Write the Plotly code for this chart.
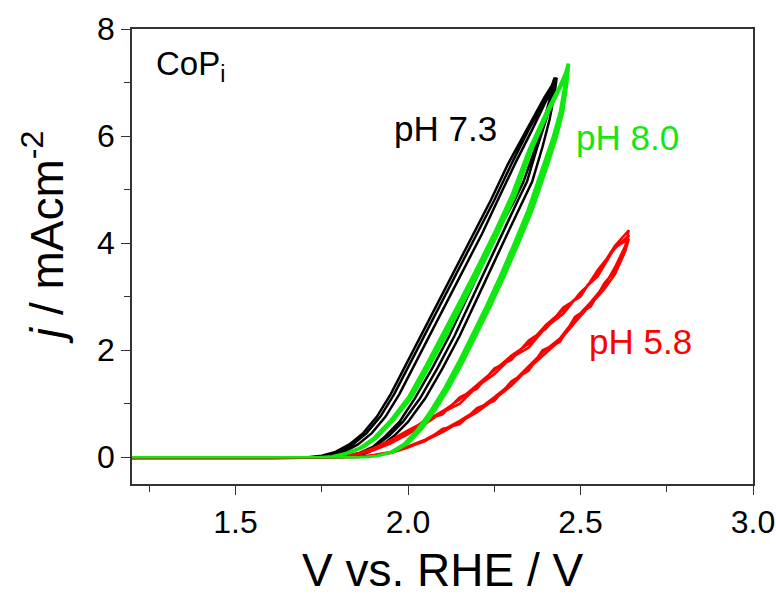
import plotly.graph_objects as go

# ---------------- data ----------------
# pH 7.3 (black): forward (anodic) branches share j values, three cycles
ph73_fwd_j = [0, 0, 0, 0.03, 0.10, 0.24, 0.45, 0.76, 1.18, 1.68, 2.30, 2.93, 3.56, 4.18, 4.80, 5.48, 6.12, 6.72, 7.09]
ph73_fwd_v_c1 = [1.20, 1.60, 1.71, 1.75, 1.79, 1.83, 1.87, 1.91, 1.95, 1.99, 2.04, 2.09, 2.14, 2.19, 2.24, 2.29, 2.345, 2.395, 2.431]
ph73_fwd_v_c2 = [1.20, 1.60, 1.72, 1.76, 1.80, 1.84, 1.88, 1.92, 1.96, 2.00, 2.05, 2.10, 2.15, 2.20, 2.25, 2.30, 2.35, 2.40, 2.428]
ph73_fwd_v_c3 = [1.20, 1.60, 1.73, 1.775, 1.815, 1.855, 1.895, 1.935, 1.975, 2.015, 2.065, 2.115, 2.165, 2.215, 2.26, 2.31, 2.36, 2.405, 2.425]
ph73_rev_j = [7.09, 6.80, 6.30, 5.80, 5.15, 4.75, 4.34, 3.65, 2.95, 2.27, 1.66, 1.10, 0.66, 0.40, 0.20, 0.08, 0.02, 0.0, -0.02, -0.02]
ph73_rev_v_c1 = [2.431, 2.425, 2.41, 2.39, 2.36, 2.33, 2.30, 2.25, 2.20, 2.15, 2.10, 2.05, 2.00, 1.96, 1.92, 1.88, 1.84, 1.80, 1.60, 1.20]
ph73_rev_v_c2 = [2.428, 2.42, 2.40, 2.375, 2.345, 2.315, 2.285, 2.235, 2.185, 2.135, 2.085, 2.035, 1.985, 1.945, 1.905, 1.87, 1.83, 1.79, 1.60, 1.20]
ph73_rev_v_c3 = [2.425, 2.415, 2.395, 2.37, 2.335, 2.305, 2.27, 2.22, 2.17, 2.12, 2.07, 2.02, 1.975, 1.935, 1.90, 1.86, 1.82, 1.78, 1.60, 1.20]

# pH 8.0 (green)
ph80_fwd_j = [0, 0, 0, 0.02, 0.08, 0.18, 0.36, 0.70, 1.12, 1.70, 2.30, 2.92, 3.55, 4.20, 4.90, 5.75, 6.45, 6.95, 7.35]
ph80_fwd_v_c1 = [1.20, 1.60, 1.74, 1.78, 1.82, 1.86, 1.90, 1.95, 2.00, 2.05, 2.10, 2.15, 2.20, 2.25, 2.30, 2.35, 2.40, 2.44, 2.467]
ph80_fwd_v_c2 = [1.20, 1.60, 1.745, 1.785, 1.825, 1.865, 1.905, 1.955, 2.006, 2.056, 2.107, 2.157, 2.207, 2.257, 2.306, 2.355, 2.404, 2.443, 2.465]
ph80_fwd_v_c3 = [1.20, 1.60, 1.75, 1.79, 1.83, 1.87, 1.91, 1.96, 2.012, 2.063, 2.114, 2.164, 2.214, 2.263, 2.312, 2.36, 2.408, 2.446, 2.463]
ph80_rev_j = [7.35, 7.00, 6.45, 5.95, 5.35, 4.60, 3.98, 3.38, 2.82, 2.30, 1.78, 1.30, 0.88, 0.52, 0.25, 0.10, 0.03, 0.0, 0.0, 0.0]
ph80_rev_v_c1 = [2.467, 2.462, 2.45, 2.43, 2.40, 2.36, 2.32, 2.28, 2.24, 2.20, 2.16, 2.12, 2.08, 2.04, 2.00, 1.96, 1.92, 1.88, 1.60, 1.20]
ph80_rev_v_c2 = [2.465, 2.458, 2.445, 2.424, 2.393, 2.353, 2.313, 2.273, 2.233, 2.193, 2.153, 2.113, 2.073, 2.033, 1.994, 1.955, 1.915, 1.875, 1.60, 1.20]
ph80_rev_v_c3 = [2.463, 2.455, 2.44, 2.418, 2.386, 2.346, 2.306, 2.266, 2.226, 2.186, 2.146, 2.106, 2.066, 2.027, 1.988, 1.95, 1.91, 1.87, 1.60, 1.20]

# pH 5.8 (red): forward / reverse potentials shared, three cycles of currents
ph58_fwd_v = [1.20, 1.60, 1.78, 1.82, 1.86, 1.90, 1.95, 2.00, 2.05, 2.10, 2.15, 2.20, 2.25, 2.30, 2.35, 2.40, 2.45, 2.50, 2.55, 2.60, 2.64]
ph58_fwd_j_c1 = [0, 0, 0.0, 0.03, 0.08, 0.17, 0.32, 0.50, 0.67, 0.86, 1.08, 1.35, 1.62, 1.90, 2.12, 2.47, 2.75, 3.05, 3.45, 3.95, 4.24]
ph58_fwd_j_c2 = [0, 0, 0.0, 0.03, 0.07, 0.15, 0.29, 0.46, 0.70, 0.80, 1.12, 1.28, 1.66, 1.82, 2.18, 2.40, 2.80, 3.00, 3.50, 3.90, 4.15]
ph58_fwd_j_c3 = [0, 0, 0.0, 0.02, 0.06, 0.13, 0.26, 0.43, 0.62, 0.84, 1.00, 1.32, 1.55, 1.86, 2.05, 2.43, 2.68, 3.08, 3.38, 3.92, 4.08]
ph58_rev_v = [2.64, 2.63, 2.60, 2.57, 2.53, 2.484, 2.44, 2.39, 2.35, 2.30, 2.25, 2.20, 2.15, 2.10, 2.05, 2.00, 1.95, 1.90, 1.85, 1.60, 1.20]
ph58_rev_j_c1 = [4.24, 3.95, 3.55, 3.21, 2.90, 2.58, 2.22, 1.96, 1.70, 1.38, 1.12, 0.88, 0.68, 0.50, 0.33, 0.20, 0.10, 0.04, 0.0, 0.0, 0.0]
ph58_rev_j_c2 = [4.15, 3.90, 3.48, 3.26, 2.82, 2.62, 2.15, 2.00, 1.62, 1.42, 1.05, 0.92, 0.62, 0.53, 0.30, 0.19, 0.09, 0.03, 0.0, 0.0, 0.0]
ph58_rev_j_c3 = [4.08, 3.85, 3.42, 3.15, 2.86, 2.52, 2.18, 1.90, 1.66, 1.34, 1.08, 0.84, 0.65, 0.47, 0.31, 0.18, 0.08, 0.03, 0.0, -0.01, -0.01]

x_ticks = [1.5, 2.0, 2.5, 3.0]
x_ticklabels = ["1.5", "2.0", "2.5", "3.0"]
y_ticks = [0, 2, 4, 6, 8]
y_ticklabels = ["0", "2", "4", "6", "8"]

labels = {"pH 7.3": (2.110, 6.14), "pH 8.0": (2.635, 5.97), "pH 5.8": (2.675, 2.17)}

BLACK = "#000000"
GREEN = "#11e811"
RED = "#ff0000"

# ---------------- build traces ----------------
def join(parts):
    xs, ys = [], []
    for x, y in parts:
        xs += list(x)
        ys += list(y)
    return xs, ys

ph73_x, ph73_y = join([
    (ph73_fwd_v_c1, ph73_fwd_j), (ph73_rev_v_c1, ph73_rev_j),
    (ph73_fwd_v_c2, ph73_fwd_j), (ph73_rev_v_c2, ph73_rev_j),
    (ph73_fwd_v_c3, ph73_fwd_j), (ph73_rev_v_c3, ph73_rev_j),
])
ph80_x, ph80_y = join([
    (ph80_fwd_v_c1, ph80_fwd_j), (ph80_rev_v_c1, ph80_rev_j),
    (ph80_fwd_v_c2, ph80_fwd_j), (ph80_rev_v_c2, ph80_rev_j),
    (ph80_fwd_v_c3, ph80_fwd_j), (ph80_rev_v_c3, ph80_rev_j),
])
ph58_x, ph58_y = join([
    (ph58_fwd_v, ph58_fwd_j_c1), (ph58_rev_v, ph58_rev_j_c1),
    (ph58_fwd_v, ph58_fwd_j_c2), (ph58_rev_v, ph58_rev_j_c2),
    (ph58_fwd_v, ph58_fwd_j_c3), (ph58_rev_v, ph58_rev_j_c3),
])

fig = go.Figure()
fig.add_trace(go.Scatter(x=ph73_x, y=ph73_y, mode="lines", name="pH 7.3",
                         line=dict(color=BLACK, width=2.5)))
fig.add_trace(go.Scatter(x=ph58_x, y=ph58_y, mode="lines", name="pH 5.8",
                         line=dict(color=RED, width=2.5)))
fig.add_trace(go.Scatter(x=ph80_x, y=ph80_y, mode="lines", name="pH 8.0",
                         line=dict(color=GREEN, width=2.5)))

FONT = "Liberation Sans, Arial, sans-serif"

ann = [
    dict(x=1.265, y=7.31, xref="x", yref="y", text="CoP<sub>i</sub>", showarrow=False,
         xanchor="left", yanchor="middle", font=dict(size=33, color="#000000", family=FONT)),
    dict(x=labels["pH 7.3"][0], y=labels["pH 7.3"][1], xref="x", yref="y", text="pH 7.3",
         showarrow=False, xanchor="center", yanchor="middle",
         font=dict(size=35, color=BLACK, family=FONT)),
    dict(x=labels["pH 8.0"][0], y=labels["pH 8.0"][1], xref="x", yref="y", text="pH 8.0",
         showarrow=False, xanchor="center", yanchor="middle",
         font=dict(size=35, color=GREEN, family=FONT)),
    dict(x=labels["pH 5.8"][0], y=labels["pH 5.8"][1], xref="x", yref="y", text="pH 5.8",
         showarrow=False, xanchor="center", yanchor="middle",
         font=dict(size=35, color=RED, family=FONT)),
    dict(x=0.5, y=0.0, xref="paper", yref="paper", yshift=-114, text="V vs. RHE / V",
         showarrow=False, xanchor="center", yanchor="bottom",
         font=dict(size=46, color="#000000", family=FONT)),
    dict(x=-0.143, y=0.543, xref="paper", yref="paper", text="<i>j</i> / mAcm<sup>-2</sup>",
         showarrow=False, xanchor="center", yanchor="middle", textangle=-90,
         font=dict(size=46, color="#000000", family=FONT)),
]

fig.update_layout(
    width=776, height=599, autosize=False,
    margin=dict(l=132, r=23, t=29, b=115, autoexpand=False),
    paper_bgcolor="white", plot_bgcolor="white",
    showlegend=False,
    annotations=ann,
    font=dict(family=FONT, color="#000000"),
)
fig.update_xaxes(
    range=[1.2, 3.0], tickmode="array", tickvals=x_ticks, ticktext=x_ticklabels,
    showgrid=False, zeroline=False, showline=True, mirror=True, automargin=False,
    linecolor="#333333", linewidth=1.5,
    ticks="outside", ticklen=9, tickwidth=1.3, tickcolor="#333333",
    tickfont=dict(size=32, family=FONT, color="#000000"),
    minor=dict(tickvals=[1.25, 1.75, 2.25, 2.75], ticks="outside", ticklen=6,
               tickwidth=1.3, tickcolor="#333333", showgrid=False),
)
fig.update_yaxes(
    range=[-0.5, 8.0], tickmode="array", tickvals=y_ticks, ticktext=y_ticklabels,
    showgrid=False, zeroline=False, showline=True, mirror=True, automargin=False,
    linecolor="#333333", linewidth=1.5,
    ticks="outside", ticklen=9, tickwidth=1.3, tickcolor="#333333",
    tickfont=dict(size=32, family=FONT, color="#000000"),
    minor=dict(tickvals=[1, 3, 5, 7], ticks="outside", ticklen=6,
               tickwidth=1.3, tickcolor="#333333", showgrid=False),
)

fig.write_html(
    "out.html",
    config={"displayModeBar": False, "responsive": False},
    post_script="document.body.style.margin='0px';document.body.style.overflow='hidden';",
)
